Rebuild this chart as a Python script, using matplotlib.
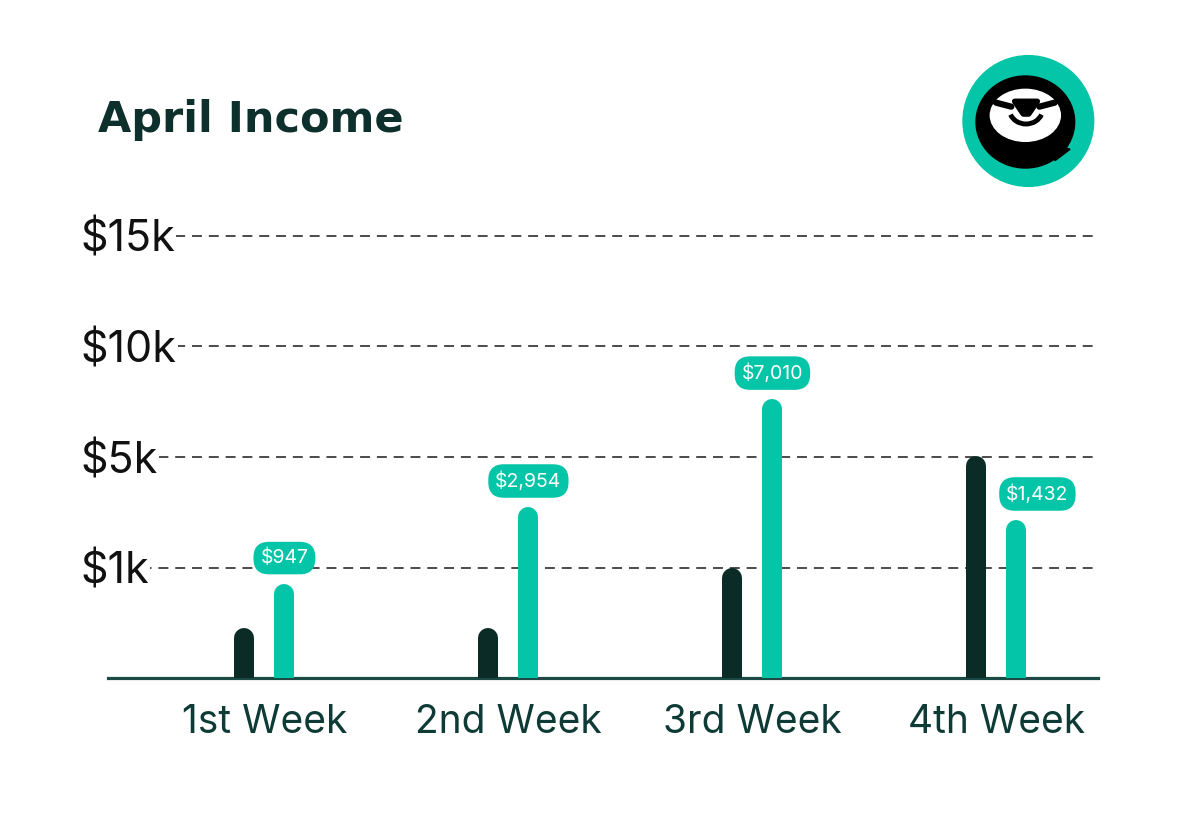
import numpy as np
import matplotlib.pyplot as plt
from matplotlib.transforms import ScaledTranslation
from matplotlib.patches import Circle, Ellipse, Polygon, Arc

plt.rcParams['font.family'] = ['Inter', 'DejaVu Sans']

# Data
weeks = ["1st Week", "2nd Week", "3rd Week", "4th Week"]
expenses = [450, 450, 1000, 5050]        # dark bars
income = [850, 3190, 7620, 2720]         # teal bars
income_labels = ["$947", "$2,954", "$7,010", "$1,432"]
tick_values = [1000, 5000, 10000, 15000]
tick_labels = ["$1k", "$5k", "$10k", "$15k"]

DARK = "#0b2b26"
TEAL = "#04c5a7"
TXT = "#0e3b36"

# piecewise axis: ticks are evenly spaced
dollars = [0, 1000, 5000, 10000, 15000, 20000]
units = [0, 1, 2, 3, 4, 5]


def fwd(v):
    return np.interp(v, dollars, units)


def inv(u):
    return np.interp(u, units, dollars)


W, H = 1199, 830
fig = plt.figure(figsize=(W / 100, H / 100), dpi=100)
ax_h = 4.2 * 110.5
ax = fig.add_axes([108 / W, (H - 678) / H, 990 / W, ax_h / H])
ax.set_yscale('function', functions=(fwd, inv))
ax.set_ylim(0, 16000)
x = np.arange(len(weeks))
ax.set_xlim(-0.641, -0.641 + 990 / 244)

# rounded bars: round-capped lines, shifted down by half the width
bw_px = 20
shift = ax.transData + ScaledTranslation(0, -bw_px / 2 / 100, fig.dpi_scale_trans)
off = bw_px / 244
for xi, e, v in zip(x, expenses, income):
    ax.plot([xi - off, xi - off], [0, e], color=DARK, lw=bw_px * 0.72,
            solid_capstyle='round', transform=shift, zorder=3)
    ax.plot([xi + off, xi + off], [0, v], color=TEAL, lw=bw_px * 0.72,
            solid_capstyle='round', transform=shift, zorder=3)

# value pills
label_dx = [0, 0, 0, 21]
for xi, v, lab, dx in zip(x, income, income_labels, label_dx):
    ax.annotate(lab, (xi + off, v), xytext=(dx * 0.72, 26 * 0.72),
                textcoords='offset points', ha='center', va='center',
                fontsize=14, color='white', zorder=5, annotation_clip=False,
                bbox=dict(boxstyle='round,pad=0.36,rounding_size=0.8',
                          fc=TEAL, ec='none'))

# axes styling
for s in ['top', 'right', 'left']:
    ax.spines[s].set_visible(False)
ax.spines['bottom'].set_color("#1b4a45")
ax.spines['bottom'].set_linewidth(2.3)
ax.set_axisbelow(True)
ax.yaxis.grid(True, color='#1a1a1a', lw=1.1, linestyle=(0, (6.5, 4.5)))
ax.set_yticks(tick_values, tick_labels)
ax.yaxis.set_minor_locator(plt.NullLocator())
ax.tick_params(axis='y', length=0, pad=20, labelsize=31, labelcolor='#111111')
for lbl in ax.get_yticklabels():
    lbl.set_horizontalalignment('left')
    lbl.set_bbox(dict(fc='white', ec='none', pad=1))
ax.set_xticks(x, weeks)
ax.tick_params(axis='x', length=0, pad=19, labelsize=28, labelcolor=TXT)

# title
fig.text(98 / W, 1 - 120 / H, "April Income", fontsize=31, fontweight='bold',
         color="#0d302c", ha='left', va='center', family='DejaVu Sans')

# logo (drawn in 3x pixel units, y down)
lax = fig.add_axes([950 / W, 1 - 200 / H, 160 / W, 160 / H])
lax.set_xlim(0, 480)
lax.set_ylim(480, 0)
lax.axis('off')
lax.add_patch(Circle((235, 243), 196, color=TEAL))
lax.add_patch(Ellipse((226, 246), 296, 276, color='black'))
lax.add_patch(Polygon([[290, 300], [360, 328], [315, 362]], color='black'))
lax.add_patch(Ellipse((226, 226), 210, 156, color='white'))
lax.plot([138, 184], [188, 200], color='black', lw=4.5, solid_capstyle='round')
lax.plot([314, 268], [188, 200], color='black', lw=4.5, solid_capstyle='round')
lax.add_patch(Polygon([[194, 184], [262, 184], [236, 222], [220, 222]], color='black',
                      joinstyle='round', lw=4))
lax.add_patch(Arc((228, 207), 100, 90, theta1=20, theta2=160, color='black', lw=3.5))

fig.savefig("out.png", dpi=100)
